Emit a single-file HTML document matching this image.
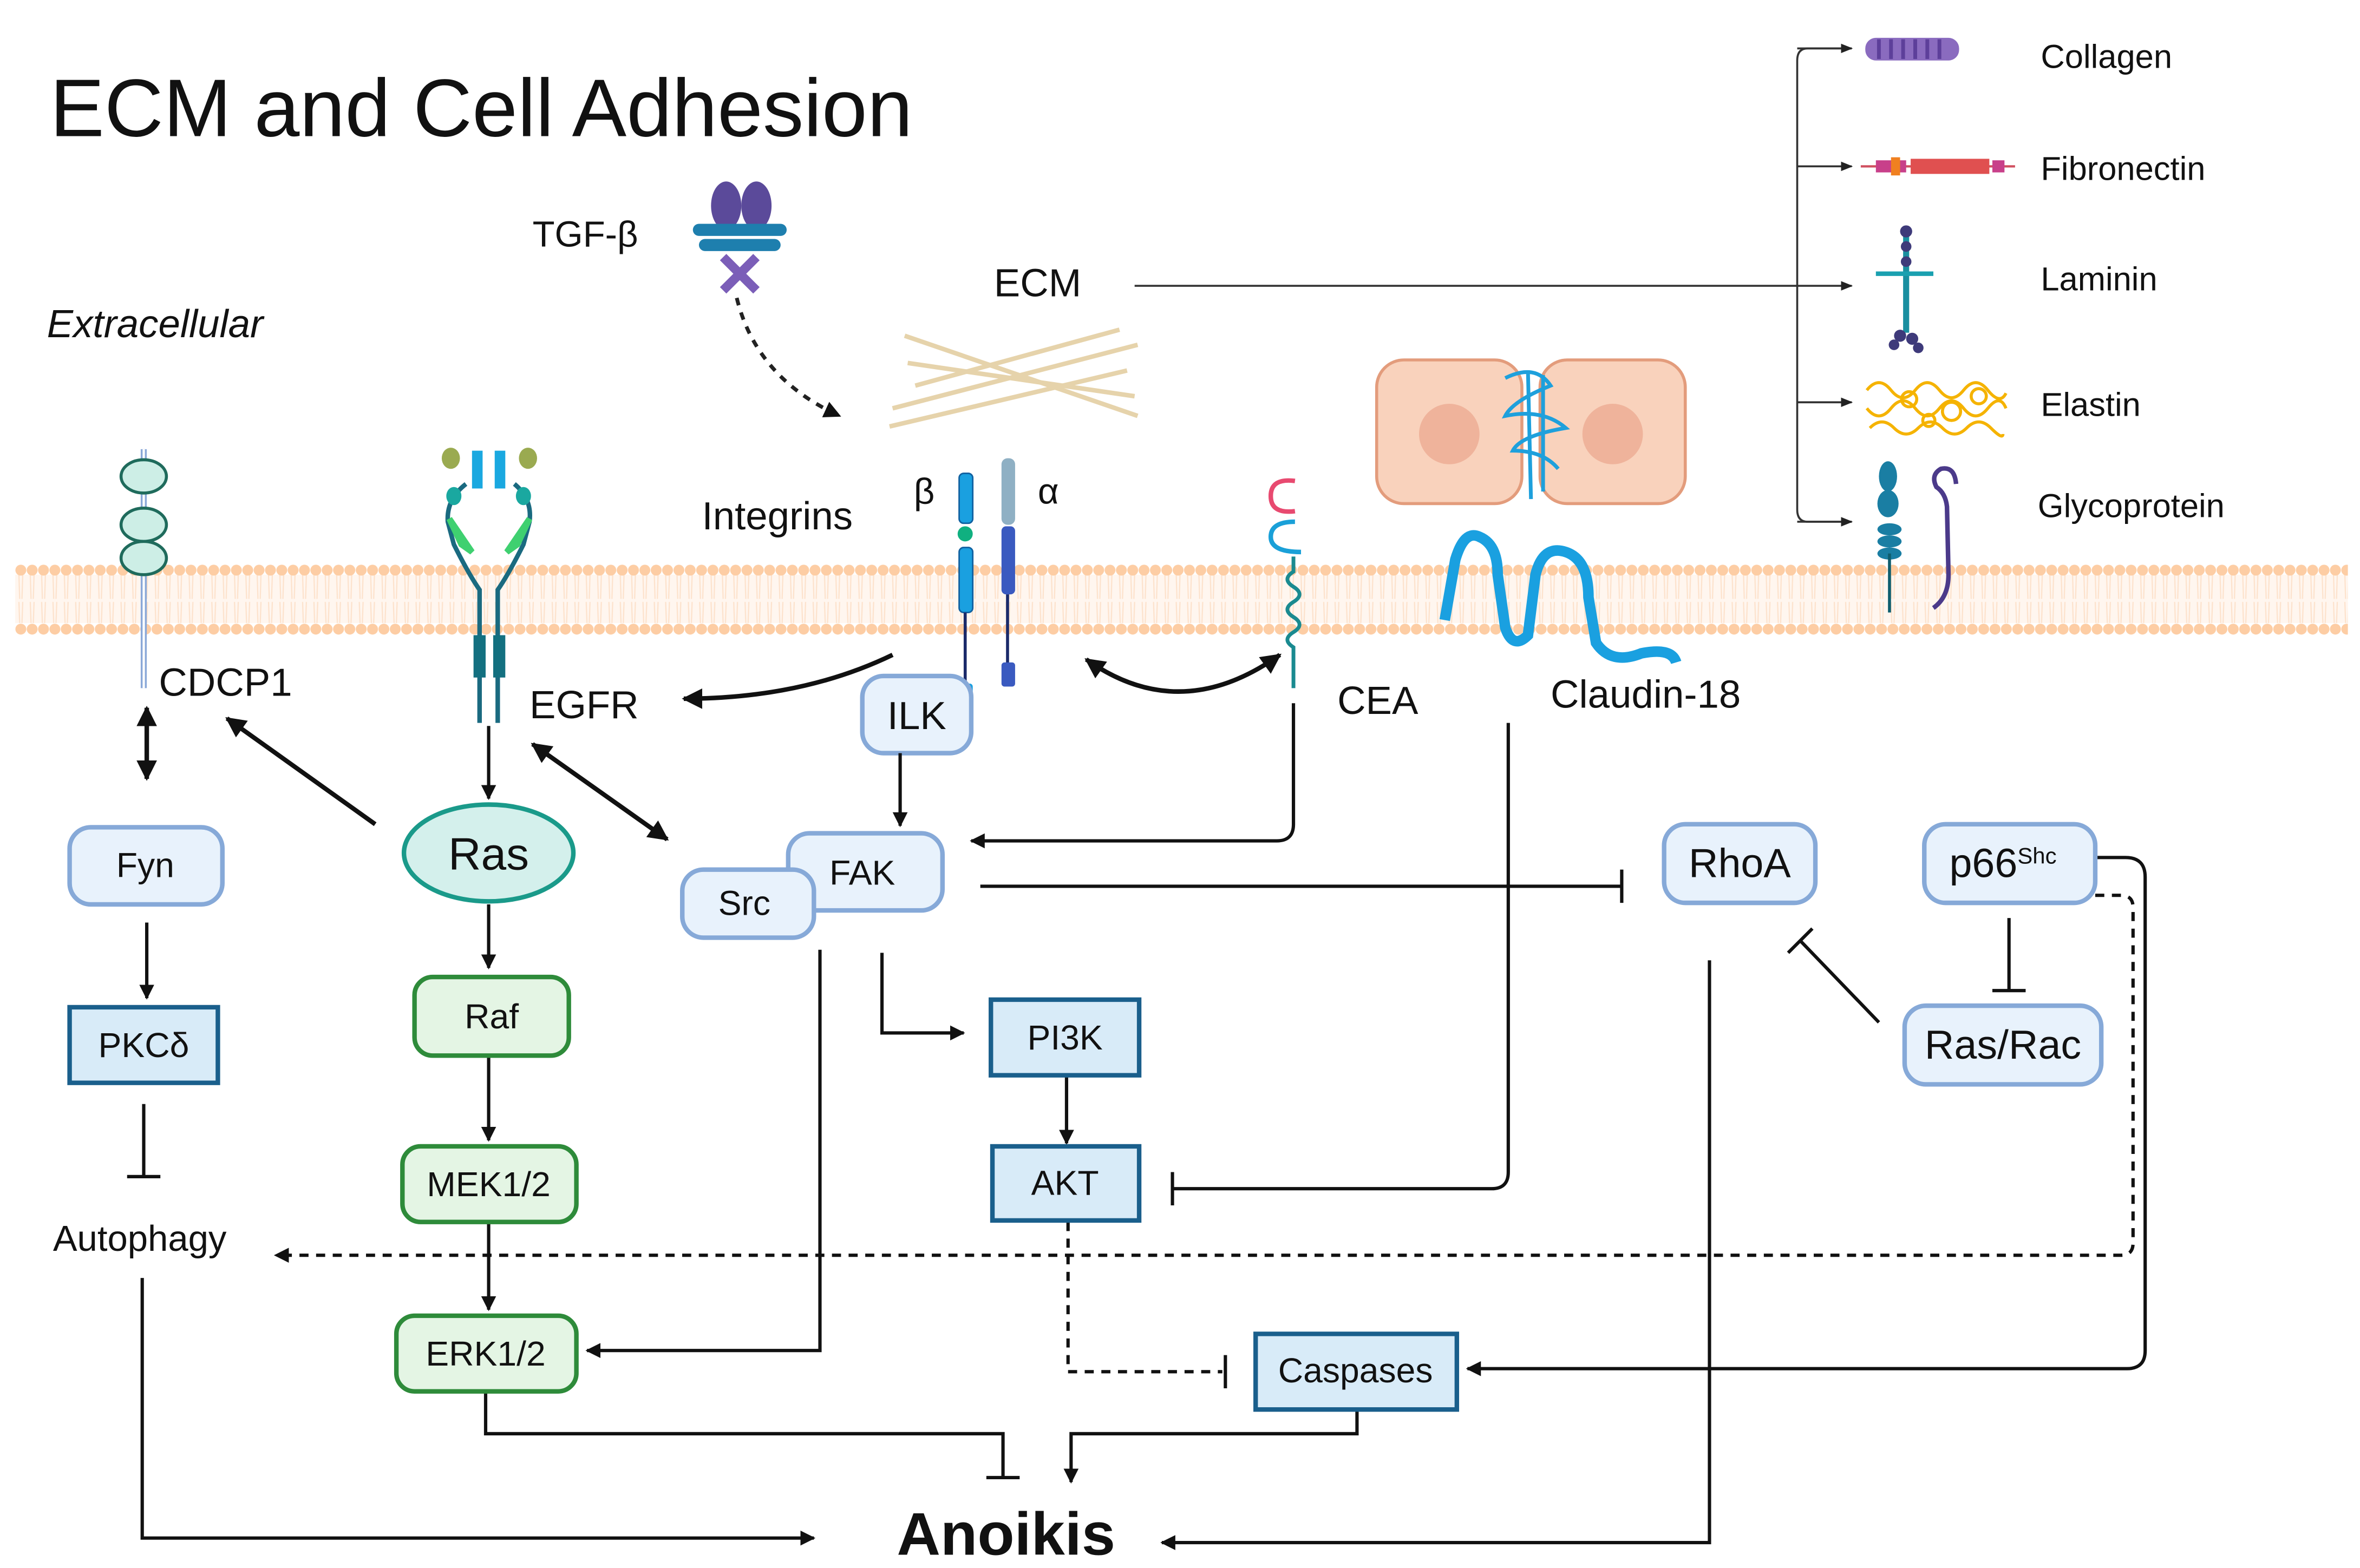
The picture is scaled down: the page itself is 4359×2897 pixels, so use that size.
<!DOCTYPE html>
<html><head><meta charset="utf-8"><style>
html,body{margin:0;padding:0;background:#fff}
svg{display:block}
text{font-family:"Liberation Sans",sans-serif;fill:#111}
</style></head><body>
<svg width="4359" height="2897" viewBox="0 0 1560 1036.8" xmlns="http://www.w3.org/2000/svg">
<defs>
<marker id="ah" viewBox="0 0 10 10" refX="9" refY="5" markerWidth="4.5" markerHeight="4.5" orient="auto-start-reverse"><path d="M0,0 L10,5 L0,10 z" fill="#111"/></marker>
<marker id="sa" viewBox="0 0 10 10" refX="9" refY="5" markerWidth="6" markerHeight="6" orient="auto"><path d="M0,1 L10,5 L0,9 z" fill="#222"/></marker>
<pattern id="heads" x="10" y="370" width="7.5" height="54" patternUnits="userSpaceOnUse">
<rect x="0" y="10" width="7.5" height="32" fill="#fff6ef"/>
<path d="M2.5,10 L3,26 M5,10 L4.5,26 M2.5,28 L3,42 M5,28 L4.5,42" stroke="#fde2cc" stroke-width="0.8"/>
<circle cx="3.75" cy="7" r="3.6" fill="#fdcda4"/>
<circle cx="3.75" cy="46" r="3.6" fill="#fdcda4"/>
</pattern>
</defs>
<rect width="1560" height="1037" fill="#fff"/>

<!-- membrane -->
<rect x="10" y="370" width="1542" height="54" fill="url(#heads)"/>

<text x="33" y="90" font-size="54">ECM and Cell Adhesion</text>
<text x="31" y="223" font-size="26" font-style="italic">Extracellular</text>
<text x="352" y="163" font-size="24">TGF-β</text>
<!-- TGF icon -->
<g>
<ellipse cx="480" cy="136" rx="10" ry="16" fill="#5b4a9a"/>
<ellipse cx="500" cy="136" rx="10" ry="16" fill="#5b4a9a"/>
<rect x="458" y="148" width="62" height="8" rx="4" fill="#1e7fae"/>
<rect x="462" y="158" width="54" height="8" rx="4" fill="#1e7fae"/>
<path d="M478,170 L500,192 M500,170 L478,192" stroke="#7b5eb8" stroke-width="6"/>
</g>
<path d="M487,197 Q500,250 555,275" fill="none" stroke="#222" stroke-width="2.5" stroke-dasharray="5,5" marker-end="url(#ah)"/>

<text x="657" y="196" font-size="26">ECM</text>
<line x1="750" y1="189" x2="1224" y2="189" stroke="#333" stroke-width="1.3" marker-end="url(#sa)"/>
<g stroke="#e6d3ab" stroke-width="3">
<line x1="598" y1="222" x2="752" y2="275"/>
<line x1="590" y1="270" x2="752" y2="228"/>
<line x1="588" y1="282" x2="745" y2="245"/>
<line x1="600" y1="240" x2="750" y2="262"/>
<line x1="605" y1="255" x2="740" y2="218"/>
</g>

<!-- right legend -->
<path d="M1224,32 L1195,32 Q1188,32 1188,40 L1188,337 Q1188,345 1195,345 L1224,345" fill="none" stroke="#333" stroke-width="1.3"/>
<g stroke="#333" stroke-width="1.3">
<line x1="1188" y1="32" x2="1224" y2="32" marker-end="url(#sa)"/>
<line x1="1188" y1="110" x2="1224" y2="110" marker-end="url(#sa)"/>
<line x1="1188" y1="266" x2="1224" y2="266" marker-end="url(#sa)"/>
<line x1="1188" y1="345" x2="1224" y2="345" marker-end="url(#sa)"/>
</g>
<rect x="1233" y="25" width="62" height="15" rx="7" fill="#8a6bbf"/>
<g stroke="#5d3f9a" stroke-width="2.5"><line x1="1242" y1="26" x2="1242" y2="39"/><line x1="1250" y1="26" x2="1250" y2="39"/><line x1="1258" y1="26" x2="1258" y2="39"/><line x1="1266" y1="26" x2="1266" y2="39"/><line x1="1274" y1="26" x2="1274" y2="39"/><line x1="1282" y1="26" x2="1282" y2="39"/></g>
<line x1="1230" y1="110" x2="1332" y2="110" stroke="#d05060" stroke-width="1.5"/>
<rect x="1240" y="106" width="20" height="8" fill="#c8408a"/>
<rect x="1250" y="104" width="6" height="12" fill="#f08020"/>
<rect x="1263" y="105" width="52" height="10" fill="#e05050"/>
<rect x="1317" y="106" width="8" height="8" fill="#c8408a"/>
<line x1="1260" y1="150" x2="1260" y2="220" stroke="#1a8fa0" stroke-width="4"/>
<line x1="1240" y1="181" x2="1278" y2="181" stroke="#1aa0b0" stroke-width="3"/>
<g fill="#3e3a7a"><circle cx="1260" cy="153" r="4"/><circle cx="1260" cy="163" r="3.5"/><circle cx="1260" cy="173" r="3.5"/><circle cx="1256" cy="222" r="4"/><circle cx="1264" cy="224" r="4"/><circle cx="1252" cy="228" r="3.5"/><circle cx="1268" cy="230" r="3.5"/></g>
<g fill="none" stroke="#f5b300" stroke-width="2">
<path d="M1234,258 q8,-10 16,0 t16,0 t16,0 t16,0 t16,0 t12,2"/>
<path d="M1234,270 q8,10 16,0 t16,0 t16,0 t16,0 t16,0 t12,0"/>
<path d="M1236,283 q8,-8 16,0 t16,0 t16,0 t16,0 t16,0 t8,4"/>
<circle cx="1262" cy="264" r="5"/><circle cx="1290" cy="272" r="6"/><circle cx="1308" cy="262" r="5"/><circle cx="1275" cy="278" r="4"/>
</g>
<g fill="#1a7ea3"><ellipse cx="1248" cy="315" rx="6" ry="10"/><ellipse cx="1248" cy="333" rx="7" ry="9"/><ellipse cx="1249" cy="350" rx="8" ry="4"/><ellipse cx="1249" cy="358" rx="8" ry="4"/><ellipse cx="1249" cy="366" rx="8" ry="4"/></g>
<line x1="1249" y1="366" x2="1249" y2="405" stroke="#0f5e6e" stroke-width="2"/>
<path d="M1293,320 Q1292,308 1283,310 Q1276,314 1280,322 Q1286,326 1287,335 L1288,380 Q1288,395 1278,402" fill="none" stroke="#4b3a8a" stroke-width="3"/>
<text x="1349" y="45" font-size="22">Collagen</text>
<text x="1349" y="119" font-size="22">Fibronectin</text>
<text x="1349" y="192" font-size="22">Laminin</text>
<text x="1349" y="275" font-size="22">Elastin</text>
<text x="1347" y="342" font-size="22">Glycoprotein</text>

<!-- cells -->
<rect x="910" y="238" width="96" height="95" rx="18" fill="#f9d2bc" stroke="#e39c7c" stroke-width="2"/>
<rect x="1018" y="238" width="96" height="95" rx="18" fill="#f9d2bc" stroke="#e39c7c" stroke-width="2"/>
<circle cx="958" cy="287" r="20" fill="#efb39b"/>
<circle cx="1066" cy="287" r="20" fill="#efb39b"/>
<path d="M995,250 q20,-10 30,5 q-25,10 -30,20 q25,-5 40,8 q-30,5 -35,15 q20,0 30,12 M1010,245 L1012,330 M1020,248 L1020,325" fill="none" stroke="#1ea0dc" stroke-width="2.5"/>

<!-- CDCP1 -->
<line x1="95" y1="297" x2="95" y2="455" stroke="#8aa8d8" stroke-width="4"/>
<line x1="95" y1="297" x2="95" y2="455" stroke="#fff" stroke-width="1.5"/>
<g fill="#cdeee6" stroke="#1f6b5c" stroke-width="2"><ellipse cx="95" cy="315" rx="15" ry="11"/><ellipse cx="95" cy="347" rx="15" ry="11"/><ellipse cx="95" cy="369" rx="15" ry="11"/></g>
<text x="105" y="460" font-size="26">CDCP1</text>

<!-- EGFR -->
<g>
<path d="M308,320 Q295,330 296,345 L300,360 Q310,380 317,390 L317,478" fill="none" stroke="#1a6a80" stroke-width="3"/>
<path d="M340,320 Q352,330 350,345 L346,360 Q336,380 329,390 L329,478" fill="none" stroke="#1a6a80" stroke-width="3"/>
<rect x="312" y="298" width="7" height="25" fill="#1aa8e0"/><rect x="327" y="298" width="7" height="25" fill="#1aa8e0"/>
<ellipse cx="298" cy="303" rx="6" ry="7" fill="#9aaa50"/><ellipse cx="349" cy="303" rx="6" ry="7" fill="#9aaa50"/>
<ellipse cx="300" cy="328" rx="5" ry="6" fill="#1aa8a0"/><ellipse cx="346" cy="328" rx="5" ry="6" fill="#1aa8a0"/>
<path d="M297,343 L312,365 L305,360 z" fill="#3fd070" stroke="#3fd070" stroke-width="4"/>
<path d="M350,343 L335,365 L342,360 z" fill="#3fd070" stroke="#3fd070" stroke-width="4"/>
<rect x="313" y="420" width="8" height="28" fill="#137080"/><rect x="326" y="420" width="8" height="28" fill="#137080"/>
</g>
<text x="350" y="475" font-size="26">EGFR</text>

<!-- Integrins -->
<text x="464" y="350" font-size="26">Integrins</text>
<text x="604" y="333" font-size="24">β</text>
<text x="686" y="333" font-size="24">α</text>
<rect x="634" y="313" width="9" height="33" rx="3" fill="#1aa0e0" stroke="#1060a0" stroke-width="1"/>
<circle cx="638" cy="353" r="5" fill="#10b080"/>
<rect x="634" y="362" width="9" height="43" rx="3" fill="#1aa0e0" stroke="#1060a0" stroke-width="1"/>
<line x1="638" y1="405" x2="638" y2="455" stroke="#1a2a6a" stroke-width="2"/>
<rect x="634" y="452" width="9" height="14" rx="2" fill="#1aa0e0"/>
<rect x="662" y="303" width="9" height="44" rx="4" fill="#8fb0c4"/>
<rect x="662" y="348" width="9" height="45" rx="3" fill="#3a5ac0"/>
<line x1="666" y1="393" x2="666" y2="440" stroke="#1a2a6a" stroke-width="2"/>
<rect x="662" y="438" width="9" height="16" rx="2" fill="#3a5ac0"/>

<!-- CEA -->
<path d="M856,318 Q840,316 840,328 Q840,340 856,338" fill="none" stroke="#e84a70" stroke-width="3"/>
<path d="M856,345 Q840,345 840,355 Q840,365 860,365" fill="none" stroke="#1aa0d8" stroke-width="3"/>
<path d="M855,368 L855,378 q-8,5 0,10 q8,5 0,10 q-8,5 0,10 q8,5 0,10 q-8,5 0,10 L855,455" fill="none" stroke="#1a8a90" stroke-width="2.5"/>
<text x="884" y="472" font-size="26">CEA</text>

<!-- Claudin -->
<path d="M955,410 L962,370 Q968,350 978,355 Q990,360 990,380 L995,415 Q1000,430 1010,420 L1015,380 Q1020,360 1035,365 Q1050,370 1050,395 L1055,425 Q1065,440 1085,432 Q1105,428 1108,438" fill="none" stroke="#1aa0e0" stroke-width="7"/>
<text x="1025" y="468" font-size="26">Claudin-18</text>

<!-- ILK -->
<rect x="570" y="447" width="72" height="51" rx="14" fill="#e8f2fc" stroke="#86a9d8" stroke-width="3"/>
<text x="606" y="482" font-size="26" text-anchor="middle">ILK</text>

<g stroke="#111" stroke-width="3" fill="none">
<path d="M590,433 Q530,462 452,462" marker-end="url(#ah)"/>
<path d="M718,436 Q780,480 846,433" marker-start="url(#ah)" marker-end="url(#ah)"/>
<line x1="97" y1="468" x2="97" y2="515" marker-start="url(#ah)" marker-end="url(#ah)"/>
<line x1="248" y1="545" x2="150" y2="475" marker-end="url(#ah)"/>
<line x1="352" y1="492" x2="441" y2="555" marker-start="url(#ah)" marker-end="url(#ah)"/>
</g>
<g stroke="#111" stroke-width="2.2" fill="none">
<line x1="323" y1="480" x2="323" y2="528" marker-end="url(#ah)"/>
<line x1="323" y1="598" x2="323" y2="640" marker-end="url(#ah)"/>
<line x1="323" y1="698" x2="323" y2="754" marker-end="url(#ah)"/>
<line x1="323" y1="808" x2="323" y2="866" marker-end="url(#ah)"/>
<line x1="97" y1="610" x2="97" y2="660" marker-end="url(#ah)"/>
<path d="M95,730 L95,778 M84,778 L106,778"/>
<line x1="595" y1="498" x2="595" y2="546" marker-end="url(#ah)"/>
<path d="M855,465 L855,545 Q855,556 844,556 L642,556" marker-end="url(#ah)"/>
<path d="M648,586 L1072,586 M1072,575 L1072,597"/>
<path d="M583,630 L583,683 L637,683" marker-end="url(#ah)"/>
<line x1="705" y1="711" x2="705" y2="756" marker-end="url(#ah)"/>
<path d="M997,478 L997,775 Q997,786 986,786 L775,786 M775,775 L775,797"/>
<path d="M542,628 L542,893 L388,893" marker-end="url(#ah)"/>
<path d="M1328,607 L1328,655 M1317,655 L1339,655"/>
<path d="M1242,676 L1190,622 M1182,630 L1198,614"/>
<path d="M1130,635 L1130,1020 L768,1020" marker-end="url(#ah)"/>
<path d="M1385,567 L1405,567 Q1418,567 1418,580 L1418,893 Q1418,905 1406,905 L970,905" marker-end="url(#ah)"/>
<path d="M321,920 L321,948 L663,948 L663,977 M652,977 L674,977"/>
<path d="M897,932 L897,948 L708,948 L708,980" marker-end="url(#ah)"/>
<path d="M94,845 L94,1017 L538,1017" marker-end="url(#ah)"/>
</g>
<g stroke="#111" stroke-width="2.2" fill="none" stroke-dasharray="6,5">
<path d="M1385,592 L1402,592 Q1410,592 1410,600 L1410,822 Q1410,830 1402,830 L182,830" marker-end="url(#ah)"/>
<path d="M706,808 L706,907 L808,907"/>
</g>
<line x1="810" y1="896" x2="810" y2="918" stroke="#111" stroke-width="2.2"/>

<g stroke-width="3">
<rect x="46" y="547" width="101" height="51" rx="14" fill="#e8f2fc" stroke="#86a9d8"/>
<rect x="46" y="666" width="98" height="50" fill="#d8ebf8" stroke="#1a5f8c"/>
<ellipse cx="323" cy="564" rx="56" ry="32" fill="#d4f0ec" stroke="#1a9a8a"/>
<rect x="274" y="646" width="102" height="52" rx="12" fill="#e4f5e4" stroke="#2e8b3a"/>
<rect x="266" y="758" width="115" height="50" rx="12" fill="#e4f5e4" stroke="#2e8b3a"/>
<rect x="262" y="870" width="119" height="50" rx="12" fill="#e4f5e4" stroke="#2e8b3a"/>
<rect x="521" y="551" width="102" height="51" rx="14" fill="#e8f2fc" stroke="#86a9d8"/>
<rect x="451" y="575" width="87" height="45" rx="14" fill="#e8f2fc" stroke="#86a9d8"/>
<rect x="655" y="661" width="98" height="50" fill="#d8ebf8" stroke="#1a5f8c"/>
<rect x="656" y="758" width="97" height="49" fill="#d8ebf8" stroke="#1a5f8c"/>
<rect x="830" y="882" width="133" height="50" fill="#d8ebf8" stroke="#1a5f8c"/>
<rect x="1100" y="545" width="100" height="52" rx="14" fill="#e8f2fc" stroke="#86a9d8"/>
<rect x="1272" y="545" width="113" height="52" rx="14" fill="#e8f2fc" stroke="#86a9d8"/>
<rect x="1259" y="665" width="130" height="52" rx="14" fill="#e8f2fc" stroke="#86a9d8"/>
</g>
<g font-size="23" text-anchor="middle">
<text x="96" y="580">Fyn</text>
<text x="95" y="699">PKCδ</text>
<text x="323" y="575" font-size="30">Ras</text>
<text x="325" y="680">Raf</text>
<text x="323" y="791">MEK1/2</text>
<text x="321" y="903">ERK1/2</text>
<text x="570" y="585">FAK</text>
<text x="492" y="605">Src</text>
<text x="704" y="694">PI3K</text>
<text x="704" y="790">AKT</text>
<text x="896" y="914">Caspases</text>
<text x="1150" y="580" font-size="27">RhoA</text>
<text x="1324" y="580" font-size="27">p66<tspan font-size="15" dy="-9">Shc</tspan></text>
<text x="1324" y="700" font-size="27">Ras/Rac</text>
</g>
<text x="35" y="827" font-size="24">Autophagy</text>
<text x="665" y="1028" font-size="40" font-weight="bold" text-anchor="middle">Anoikis</text>
</svg>
</body></html>
